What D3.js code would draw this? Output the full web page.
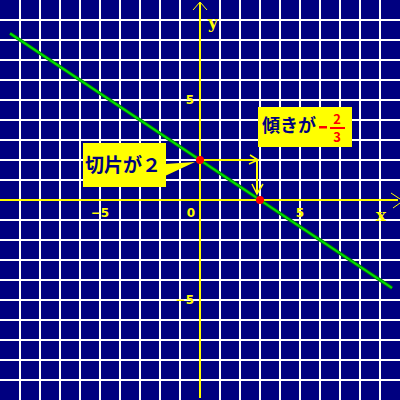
<!DOCTYPE html>
<head>
  <meta charset="utf-8">
  <style>
    body { margin: 0; }
    svg { display: block; background-color: #000080; }
    .grid line { stroke: #ffffff; stroke-width: 1.5px; shape-rendering: crispEdges; }
    .axis line { stroke: #ffff00; stroke-width: 2.5px; shape-rendering: crispEdges; }
    .tick-label { fill: #ffff00; font-family: "DejaVu Sans", sans-serif; font-weight: bold; font-size: 12px; }
    .axis-name { fill: #ffff00; font-family: "DejaVu Serif", serif; font-weight: bold; font-size: 17px; }
    .callout text { font-family: "Noto Sans CJK JP", sans-serif; font-weight: bold; }
  </style>
</head>

<body>
  <svg></svg>
  <script src="https://d3js.org/d3.v7.min.js"></script>
  <script type="text/javascript">
    // grid in data units, one line per unit
    const gridValues = [-9, -8, -7, -6, -5, -4, -3, -2, -1, 1, 2, 3, 4, 5, 6, 7, 8, 9];
    const xTickLabels = [{v: -5, t: '\u22125'}, {v: 0, t: '0'}, {v: 5, t: '5'}];
    const yTickLabels = [{v: 5, t: '5'}, {v: -5, t: '\u22125'}];

    // y = -2/3 x + 2, ends
    const linePoints = [[-9.5, 8.33], [9.6, -4.4]];
    const redPoints = [[0, 2], [3, 0]];

    // run and fall arrows
    const runArrow = [[0, 2], [2.9, 2]];
    const fallArrow = [[2.85, 2], [2.85, 0.3]];

    const interceptText = '切片が２';
    const slopeText = '傾きが';

    let width = 400, height = 400;
    let svg = d3.select('svg').attr('width', width).attr('height', height);

    let x = d3.scaleLinear().domain([-10, 10]).range([0, width]);
    let y = d3.scaleLinear().domain([-10, 10]).range([height, 0]);

    let grid = svg.append('g').classed('grid', true);
    grid.selectAll('.gx').data(gridValues).enter().append('line')
        .attr('x1', d => x(d)).attr('x2', d => x(d))
        .attr('y1', 0).attr('y2', height);
    grid.selectAll('.gy').data(gridValues).enter().append('line')
        .attr('y1', d => y(d)).attr('y2', d => y(d))
        .attr('x1', 0).attr('x2', width);

    let axis = svg.append('g').classed('axis', true);
    axis.append('line').attr('x1', 0).attr('x2', width - 2).attr('y1', y(0)).attr('y2', y(0));
    axis.append('line').attr('x1', x(0)).attr('x2', x(0)).attr('y1', 2).attr('y2', height - 2);

    // thin arrow heads on the axes
    let head = svg.append('g').attr('fill', 'none').attr('stroke', '#ffff00').attr('stroke-width', 1);
    head.append('path').attr('d', `M${width - 9},${y(0) - 7} L${width},${y(0) - 1} M${width - 7},${y(0) + 8} L${width},${y(0) + 3}`);
    head.append('path').attr('d', `M${x(0) - 7},${10} L${x(0)},${2} L${x(0) + 7},${10}`);

    svg.selectAll('.xt').data(xTickLabels).enter().append('text')
        .classed('tick-label', true)
        .attr('x', d => d.v === 0 ? x(d.v) - 9 : x(d.v))
        .attr('y', y(0) + 17)
        .attr('text-anchor', 'middle')
        .text(d => d.t);
    svg.selectAll('.yt').data(yTickLabels).enter().append('text')
        .classed('tick-label', true)
        .attr('x', x(0) - 6)
        .attr('y', d => y(d.v) + 4)
        .attr('text-anchor', 'end')
        .text(d => d.t);

    svg.append('text').classed('axis-name', true).attr('x', x(0) + 8).attr('y', 28).text('y');
    svg.append('text').classed('axis-name', true).attr('x', width - 24).attr('y', y(0) + 21).text('x');

    // green line with darker edge
    let line = d3.line().x(d => x(d[0])).y(d => y(d[1]));
    svg.append('path').datum(linePoints).attr('d', line)
        .attr('stroke', '#007800').attr('stroke-width', 3.5).attr('fill', 'none');
    svg.append('path').datum(linePoints).attr('d', line)
        .attr('stroke', '#00e000').attr('stroke-width', 2).attr('fill', 'none');

    // callout: intercept
    let c1 = svg.append('g').classed('callout', true);
    c1.append('rect').attr('x', 83).attr('y', 143).attr('width', 83).attr('height', 44).attr('fill', '#ffff00');
    c1.append('path')
        .attr('d', `M165,164 L${x(0) - 5},${y(2) + 2} L165,176 Z`)
        .attr('fill', '#ffff00');
    c1.append('text').attr('x', 85).attr('y', 172)
        .attr('font-size', 19).attr('fill', '#000080').text(interceptText);

    // callout: slope
    let c2 = svg.append('g').classed('callout', true);
    c2.append('rect').attr('x', 258).attr('y', 107).attr('width', 94).attr('height', 40).attr('fill', '#ffff00');
    c2.append('text').attr('x', 262).attr('y', 132)
        .attr('font-size', 18).attr('fill', '#000080').text(slopeText);
    c2.append('rect').attr('x', 319).attr('y', 126).attr('width', 8).attr('height', 2.5).attr('fill', '#ff0000');
    c2.append('text').attr('x', 337).attr('y', 124).attr('text-anchor', 'middle')
        .attr('font-size', 13).attr('font-weight', 'bold').attr('font-family', 'DejaVu Sans, sans-serif')
        .attr('fill', '#ff0000').text('2');
    c2.append('rect').attr('x', 330).attr('y', 127).attr('width', 15).attr('height', 2).attr('fill', '#ff0000');
    c2.append('text').attr('x', 337).attr('y', 142).attr('text-anchor', 'middle')
        .attr('font-size', 13).attr('font-weight', 'bold').attr('font-family', 'DejaVu Sans, sans-serif')
        .attr('fill', '#ff0000').text('3');

    // run / fall arrows
    let arrows = svg.append('g').attr('stroke', '#ffff00').attr('fill', 'none');
    arrows.append('path').datum(runArrow).attr('d', line).attr('stroke-width', 2);
    let re = [x(runArrow[1][0]), y(runArrow[1][1])];
    arrows.append('path').attr('stroke-width', 1.5)
        .attr('d', `M${re[0] - 8},${re[1] - 5} L${re[0]},${re[1]} L${re[0] - 9},${re[1] + 4}`);
    arrows.append('path').datum(fallArrow).attr('d', line).attr('stroke-width', 2);
    let fe = [x(fallArrow[1][0]), y(fallArrow[1][1])];
    arrows.append('path').attr('stroke-width', 1.5)
        .attr('d', `M${fe[0] - 5},${fe[1] - 10} L${fe[0]},${fe[1]} L${fe[0] + 6},${fe[1] - 10}`);

    svg.selectAll('.pt').data(redPoints).enter().append('circle')
        .attr('cx', d => x(d[0])).attr('cy', d => y(d[1])).attr('r', 4)
        .attr('fill', '#ff0000');
  </script>
</body>
